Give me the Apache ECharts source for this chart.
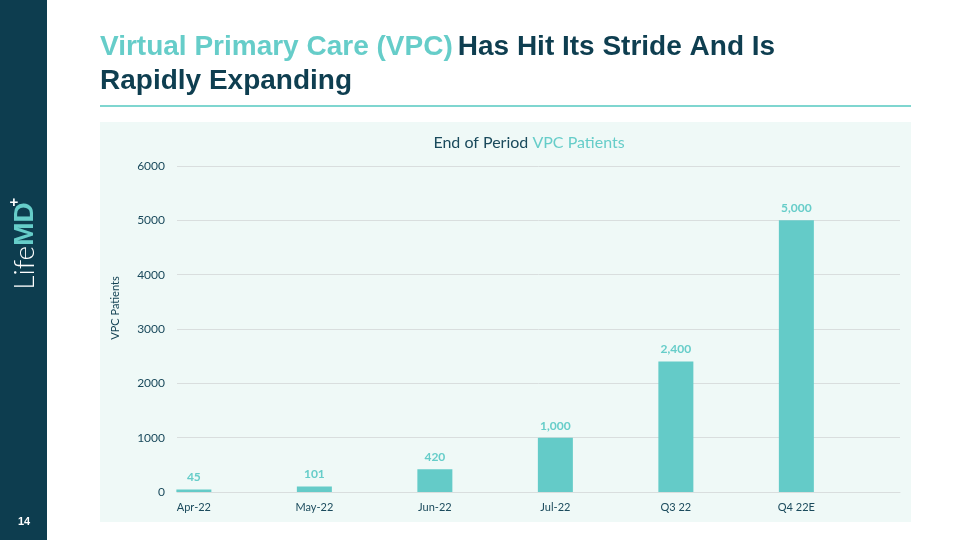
<!DOCTYPE html>
<html>
<head>
<meta charset="utf-8">
<script src="https://cdn.jsdelivr.net/npm/echarts@6/dist/echarts.min.js"></script>
<style>
html,body{margin:0;padding:0;background:#ffffff;}
#c{width:960px;height:540px;}
</style>
</head>
<body>
<div id="c"></div>
<script>
const categories = ['Apr-22', 'May-22', 'Jun-22', 'Jul-22', 'Q3 22', 'Q4 22E'];
const patients = [45, 101, 420, 1000, 2400, 5000];
const yTicks = [0, 1000, 2000, 3000, 4000, 5000, 6000];

const DARK = '#0e3e50';
const TEAL = '#66cdc9';
const BAR = '#64cbc8';

const chart = echarts.init(document.getElementById('c'), null, {renderer: 'canvas'});
const idx = categories.map((c, i) => i);

chart.setOption({
  animation: false,
  backgroundColor: '#ffffff',
  graphic: [
    {type: 'rect', shape: {x: 0, y: 0, width: 47, height: 540}, style: {fill: '#0d3d4f'}, z: 0},
    {type: 'rect', shape: {x: 100, y: 122, width: 811, height: 400}, style: {fill: '#eff9f7'}, z: -10},
    {type: 'line', shape: {x1: 100, y1: 106, x2: 911, y2: 106}, style: {stroke: '#7fd6d0', lineWidth: 2}},
    {type: 'text', x: 24, y: 522, style: {text: '14', fill: '#ffffff', font: 'bold 11px "Liberation Sans", Arial', align: 'center', verticalAlign: 'middle'}},
    {type: 'text', x: 25, y: 246, rotation: Math.PI / 2, style: {
      text: '{a|Life}{b|MD}',
      align: 'center', verticalAlign: 'middle',
      rich: {
        a: {fill: '#ffffff', font: '300 28px Lato, "Open Sans", sans-serif'},
        b: {fill: TEAL, font: 'bold 28px "Liberation Sans", Arial, sans-serif'}
      }
    }},
    {type: 'text', x: 14, y: 203, style: {text: '+', fill: '#ffffff', font: 'bold 15px "Liberation Sans", Arial', align: 'center', verticalAlign: 'middle'}},
    {type: 'text', x: 115, y: 308, rotation: Math.PI / 2, style: {
      text: 'VPC Patients', fill: DARK, font: '11px Lato, "Open Sans", sans-serif', align: 'center', verticalAlign: 'middle'
    }}
  ],
  title: [
    {
      left: 100, top: 30, padding: 0,
      text: '{t|Virtual Primary Care (VPC)} {d|Has Hit Its Stride And Is}\n{d|Rapidly Expanding}',
      textStyle: {
        lineHeight: 34,
        rich: {
          t: {color: TEAL, fontFamily: '"Liberation Sans", Arial, sans-serif', fontWeight: 'bold', fontSize: 28, lineHeight: 34},
          d: {color: DARK, fontFamily: '"Liberation Sans", Arial, sans-serif', fontWeight: 'bold', fontSize: 28, lineHeight: 34}
        }
      }
    },
    {
      left: 529, top: 135, textAlign: 'center', padding: 0,
      text: '{d|End of Period }{t|VPC Patients}',
      textStyle: {
        rich: {
          d: {color: '#1a4a5c', fontFamily: 'Lato, "Open Sans", sans-serif', fontSize: 16, fontWeight: 'normal'},
          t: {color: TEAL, fontFamily: 'Lato, "Open Sans", sans-serif', fontSize: 16, fontWeight: 'normal'}
        }
      }
    }
  ],
  grid: {left: 177, right: 60, top: 166, bottom: 48, containLabel: false},
  xAxis: {
    type: 'value',
    min: -0.14, max: 5.86,
    splitLine: {show: false},
    axisTick: {show: false},
    axisLine: {show: true, lineStyle: {color: '#d9dede', width: 1}},
    axisLabel: {
      customValues: idx,
      formatter: v => categories[Math.round(v)] || '',
      color: '#1a4a5c', fontFamily: 'Lato, "Open Sans", sans-serif', fontSize: 11, margin: 10,
      showMinLabel: true, showMaxLabel: true
    }
  },
  yAxis: {
    type: 'value',
    min: yTicks[0], max: yTicks[yTicks.length - 1], interval: 1000,
    axisLine: {show: false},
    axisTick: {show: false},
    splitLine: {show: true, lineStyle: {color: '#d9dede', width: 1}},
    axisLabel: {color: '#1a4a5c', fontFamily: 'Lato, "Open Sans", sans-serif', fontSize: 12, margin: 12, formatter: v => String(v)}
  },
  series: [{
    type: 'bar',
    data: patients.map((v, i) => [i, v]),
    barWidth: 35,
    itemStyle: {color: BAR},
    label: {
      show: true, position: 'top', distance: 6,
      color: TEAL, fontFamily: 'Lato, "Open Sans", sans-serif', fontWeight: 'bold', fontSize: 12,
      formatter: p => p.value[1].toLocaleString('en-US')
    }
  }]
});
</script>
</body>
</html>
